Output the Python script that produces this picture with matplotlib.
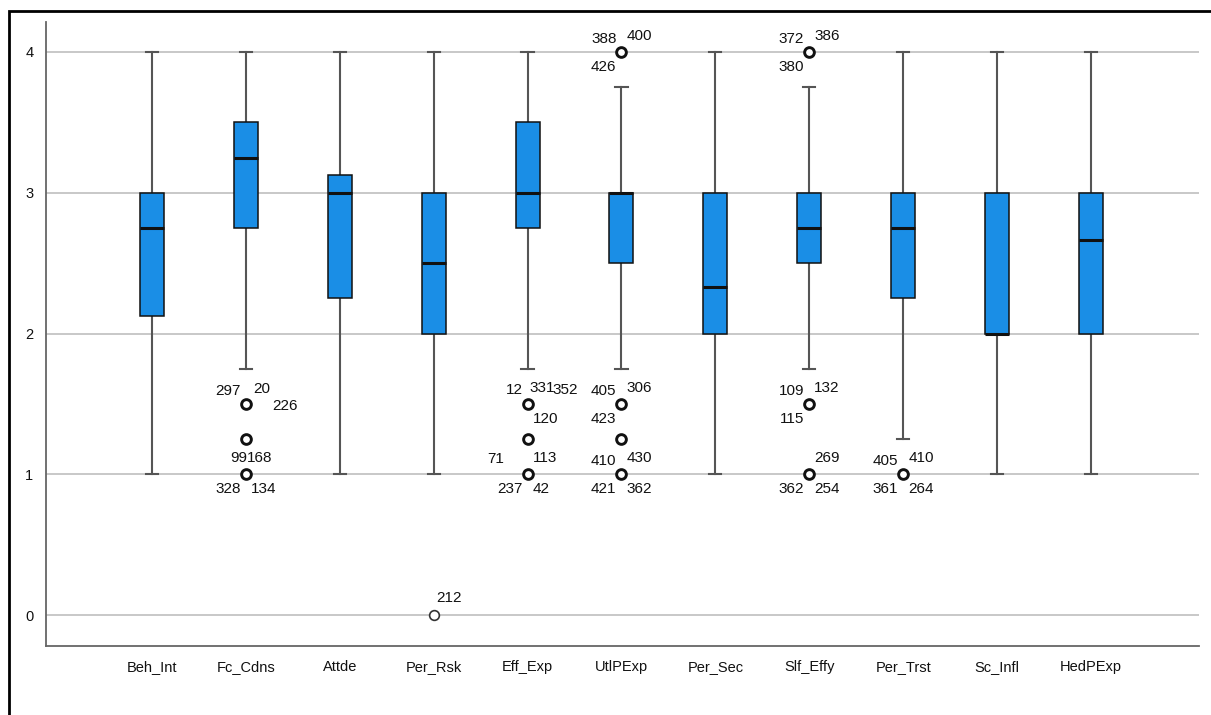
import matplotlib
matplotlib.use("Agg")
import matplotlib.pyplot as plt
from matplotlib.patches import Rectangle

plt.rcParams['font.family'] = ['Liberation Sans', 'DejaVu Sans']

variables = ["Beh_Int", "Fc_Cdns", "Attde", "Per_Rsk", "Eff_Exp", "UtlPExp",
             "Per_Sec", "Slf_Effy", "Per_Trst", "Sc_Infl", "HedPExp"]
whisker_low = [1.0, 1.75, 1.0, 1.0, 1.75, 1.75, 1.0, 1.75, 1.25, 1.0, 1.0]
q1 = [2.125, 2.75, 2.25, 2.0, 2.75, 2.5, 2.0, 2.5, 2.25, 2.0, 2.0]
medians = [2.75, 3.25, 3.0, 2.5, 3.0, 3.0, 2.333, 2.75, 2.75, 2.0, 2.667]
q3 = [3.0, 3.5, 3.125, 3.0, 3.5, 3.0, 3.0, 3.0, 3.0, 3.0, 3.0]
whisker_high = [4.0, 4.0, 4.0, 4.0, 4.0, 3.75, 4.0, 3.75, 4.0, 4.0, 4.0]
outliers = [[], [1.5, 1.25, 1.0], [], [0.0], [1.5, 1.25, 1.0],
            [4.0, 1.5, 1.25, 1.0], [], [4.0, 1.5, 1.0], [1.0], [], []]

# case ids printed next to outliers: (variable index, value, case id)
case_labels = [
    (1, 1.5, "297"), (1, 1.5, "20"), (1, 1.5, "226"),
    (1, 1.0, "99"), (1, 1.0, "168"), (1, 1.0, "328"), (1, 1.0, "134"),
    (3, 0.0, "212"),
    (4, 1.5, "12"), (4, 1.5, "331"), (4, 1.5, "352"), (4, 1.5, "120"),
    (4, 1.0, "71"), (4, 1.0, "113"), (4, 1.0, "237"), (4, 1.0, "42"),
    (5, 4.0, "388"), (5, 4.0, "400"), (5, 4.0, "426"),
    (5, 1.5, "405"), (5, 1.5, "306"), (5, 1.5, "423"),
    (5, 1.0, "410"), (5, 1.0, "430"), (5, 1.0, "421"), (5, 1.0, "362"),
    (7, 4.0, "372"), (7, 4.0, "386"), (7, 4.0, "380"),
    (7, 1.5, "109"), (7, 1.5, "132"), (7, 1.5, "115"),
    (7, 1.0, "269"), (7, 1.0, "362"), (7, 1.0, "254"),
    (8, 1.0, "405"), (8, 1.0, "410"), (8, 1.0, "361"), (8, 1.0, "264"),
]

# label placement around the marker in pixels (dx, dy, horizontal alignment)
corner = {
    "ul": (-5, 13, "right"), "ur": (5, 16, "left"),
    "ll": (-5, -15, "right"), "lr": (5, -15, "left"),
}
label_pos = [
    corner["ul"], (7, 15, "left"), (26, -2, "left"),
    (1, 16, "right"), (1, 16, "left"), corner["ll"], corner["lr"],
    (3, 17, "left"),
    (-5, 14, "right"), (2, 16, "left"), (25, 14, "left"), corner["lr"],
    (-23, 15, "right"), corner["ur"], corner["ll"], corner["lr"],
    corner["ul"], corner["ur"], corner["ll"],
    corner["ul"], corner["ur"], corner["ll"],
    corner["ul"], corner["ur"], corner["ll"], corner["lr"],
    corner["ul"], corner["ur"], corner["ll"],
    corner["ul"], corner["ur"], corner["ll"],
    corner["ur"], corner["ll"], corner["lr"],
    corner["ul"], corner["ur"], corner["ll"], corner["lr"],
]

W, H = 1211, 715
fig = plt.figure(figsize=(W / 100, H / 100), dpi=100)
ax = fig.add_axes([46 / W, 1 - 646 / H, (1199 - 46) / W, (646 - 22) / H])

stats = []
for i, name in enumerate(variables):
    stats.append(dict(label=name, whislo=whisker_low[i], q1=q1[i], med=medians[i],
                      q3=q3[i], whishi=whisker_high[i], fliers=outliers[i]))

positions = list(range(len(variables)))
parts = ax.bxp(stats, positions=positions, widths=0.255, patch_artist=True,
               boxprops=dict(facecolor="#1a8ee6", edgecolor="#111111", linewidth=1.1),
               medianprops=dict(color="#111111", linewidth=2.2),
               whiskerprops=dict(color="#555555", linewidth=1.5),
               capprops=dict(color="#555555", linewidth=1.5),
               capwidths=0.13,
               flierprops=dict(marker="o", markersize=7, markerfacecolor="white",
                               markeredgecolor="#111111", markeredgewidth=2.1))
for box in parts["boxes"]:
    box.set_zorder(3)
for med in parts["medians"]:
    med.set_zorder(4)
# the single zero value is drawn with a lighter ring
parts["fliers"][3].set_markeredgewidth(1.2)
parts["fliers"][3].set_markeredgecolor("#333333")
for f in parts["fliers"]:
    f.set_zorder(5)

for (idx, val, text), (dx, dy, ha) in zip(case_labels, label_pos):
    ax.annotate(text, (positions[idx], val), xytext=(dx, dy), textcoords="offset pixels",
                ha=ha, va="center", fontsize=11, color="#111111", zorder=6)

ax.set_xlim(-1.128, 11.15)
ax.set_ylim(-0.22, 4.213)
ax.set_yticks([0, 1, 2, 3, 4])
ax.set_yticklabels(["0", "1", "2", "3", "4"])
ax.yaxis.grid(True, color="#c8c8c8", linewidth=1.4)
ax.set_axisbelow(True)
ax.tick_params(axis="both", length=0, labelsize=10.5, colors="#111111")
ax.tick_params(axis="x", pad=10)
ax.tick_params(axis="y", pad=9)
for side in ("top", "right"):
    ax.spines[side].set_visible(False)
for side in ("left", "bottom"):
    ax.spines[side].set_color("#666666")
    ax.spines[side].set_linewidth(1.3)

# outer frame around the output panel
fig.patches.append(Rectangle((8.5 / W, -0.1), 2, 1.1 - 10.5 / H, transform=fig.transFigure,
                             fill=False, edgecolor="black", linewidth=2, clip_on=False))

fig.savefig("out.png", dpi=100)
